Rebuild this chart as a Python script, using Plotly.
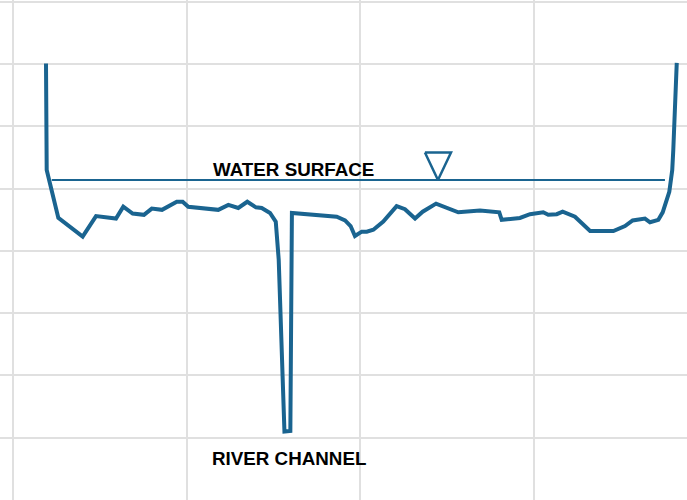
import plotly.graph_objects as go

# cross-section survey: station (m) and bed elevation (m)
station = [19.0, 19.4, 26.1, 40.1, 47.8, 59.3, 63.5, 68.9, 75.4, 79.9, 85.8, 94.3, 97.7,
           100.9, 118.2, 124.0, 129.7, 134.9, 139.9, 143.2, 148.0, 151.3, 153.0, 155.4,
           156.3, 159.7, 160.6, 186.4, 191.2, 194.4, 196.9, 200.8, 203.7, 207.5, 213.2,
           220.9, 225.7, 231.5, 235.9, 243.6, 250.6, 256.4, 268.9, 280.0, 281.4, 291.9,
           297.7, 305.3, 308.2, 313.1, 316.5, 323.6, 332.3, 345.7, 352.4, 356.8, 363.9,
           366.8, 371.6, 374.1, 377.9, 379.6, 380.2, 382.2]
elevation = [6.01, 4.30, 3.53, 3.23, 3.56, 3.52, 3.71, 3.60, 3.58, 3.68, 3.66, 3.79, 3.79,
             3.71, 3.66, 3.74, 3.69, 3.79, 3.70, 3.69, 3.61, 3.47, 2.86, 0.93,
             0.10, 0.11, 3.61, 3.55, 3.49, 3.40, 3.24, 3.31, 3.31, 3.34, 3.47,
             3.72, 3.67, 3.52, 3.63, 3.76, 3.69, 3.62, 3.65, 3.62, 3.50, 3.53,
             3.59, 3.62, 3.58, 3.59, 3.63, 3.55, 3.32, 3.32, 3.40, 3.49, 3.52,
             3.46, 3.50, 3.62, 3.95, 4.30, 4.62, 6.02]

water_level = 4.14
water_start, water_end = 22.3, 375.4
marker_station = 244.7
tri_half_width = 7.5
tri_height = 0.44

color = "#1a6490"

fig = go.Figure()

fig.add_trace(go.Scatter(
    x=[water_start, water_end], y=[water_level, water_level],
    mode="lines", line=dict(color=color, width=2), showlegend=False
))

fig.add_trace(go.Scatter(
    x=[marker_station - tri_half_width, marker_station + tri_half_width, marker_station,
       marker_station - tri_half_width],
    y=[water_level + tri_height, water_level + tri_height, water_level,
       water_level + tri_height],
    mode="lines", line=dict(color=color, width=2.5), showlegend=False
))

fig.add_trace(go.Scatter(
    x=station, y=elevation, mode="lines",
    line=dict(color=color, width=4), showlegend=False
))

fig.add_annotation(x=161.5, y=4.30, text="<b>WATER SURFACE</b>", showarrow=False,
                   font=dict(family="Liberation Sans, Arial", size=18.8, color="#000"))
fig.add_annotation(x=159.0, y=-0.33, text="<b>RIVER CHANNEL</b>", showarrow=False,
                   font=dict(family="Liberation Sans, Arial", size=18.8, color="#000"))

fig.update_xaxes(range=[-7.49, 388.1], dtick=100, tick0=0, showticklabels=False,
                 showgrid=True, gridcolor="#e0e0e0", gridwidth=2, zeroline=False,
                 showline=False)
fig.update_yaxes(range=[-1.0, 7.03], dtick=1, tick0=0, showticklabels=False,
                 showgrid=True, gridcolor="#e0e0e0", gridwidth=2, zeroline=False,
                 showline=False)
fig.update_layout(
    width=687, height=500,
    margin=dict(l=0, r=0, t=0, b=0),
    plot_bgcolor="white", paper_bgcolor="white",
)

fig.write_html("out.html", config={"displayModeBar": False},
               post_script="document.body.style.margin = '0';")
